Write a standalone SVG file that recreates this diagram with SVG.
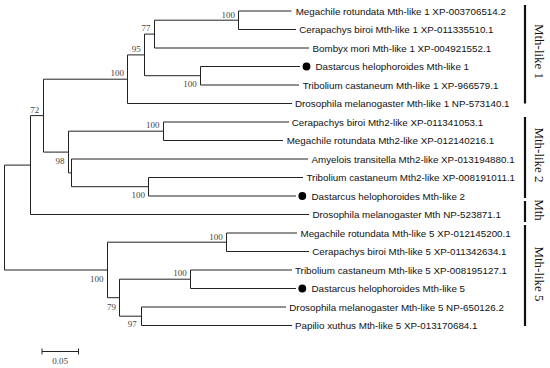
<svg xmlns="http://www.w3.org/2000/svg" width="550" height="368" viewBox="0 0 550 368">
<style>
.br{fill:none;stroke:#222;stroke-width:1}
.lf{font-family:"Liberation Sans",Arial,sans-serif;font-size:9.8px;fill:#111}
.bs{font-family:"Liberation Serif","Times New Roman",serif;font-size:9px;fill:#444;text-anchor:end}
.grp{font-family:"Liberation Serif","Times New Roman",serif;font-size:13px;fill:#111;text-anchor:middle}
.bar{stroke:#111;stroke-width:2.2}
.dot{fill:#000}
</style>
<rect width="550" height="368" fill="#fff"/>
<g id="connectors">
<path class="br" d="M30.5,165.1 H4.5 V270 H107.5"/>
<path class="br" d="M43.5,115.6 H30.5 V214.5 H309"/>
<path class="br" d="M127.5,79.2 H43.5 V152.1 H68.5"/>
<path class="br" d="M144.5,54.9 H127.5 V103.5 H292"/>
<path class="br" d="M154.5,34.1 H144.5 V75.7 H200.5"/>
<path class="br" d="M238.5,20.2 H154.5 V48 H309"/>
<path class="br" d="M291.5,11 H238.5 V29.5 H296"/>
<path class="br" d="M300,66.5 H200.5 V85 H299"/>
<path class="br" d="M163.5,131.2 H68.5 V172.9 H71.5"/>
<path class="br" d="M289,122 H163.5 V140.5 H283"/>
<path class="br" d="M308,159 H71.5 V186.7 H148.5"/>
<path class="br" d="M303,177.5 H148.5 V196 H296"/>
<path class="br" d="M226.5,242.2 H107.5 V297.7 H119.5"/>
<path class="br" d="M297,233 H226.5 V251.5 H309"/>
<path class="br" d="M190.5,279.2 H119.5 V316.2 H141.5"/>
<path class="br" d="M292,270 H190.5 V288.5 H296"/>
<path class="br" d="M286,307 H141.5 V325.5 H292"/>
</g>
<g id="bootstrap">
<g id="nF"><text class="bs" x="235" y="17.5">100</text></g>
<g id="nE"><text class="bs" x="150.5" y="31">77</text></g>
<g id="nD"><text class="bs" x="140.8" y="52">95</text></g>
<g id="nC"><text class="bs" x="124" y="75.7">100</text></g>
<g id="nG"><text class="bs" x="196.8" y="87.3">100</text></g>
<g id="nJ"><text class="bs" x="159.5" y="128.3">100</text></g>
<g id="nB"><text class="bs" x="39.3" y="113">72</text></g>
<g id="nH"><text class="bs" x="64.5" y="164">98</text></g>
<g id="nK"><text class="bs" x="145" y="198">100</text></g>
<g id="nN"><text class="bs" x="222.8" y="239.7">100</text></g>
<g id="nL"><text class="bs" x="103.5" y="281.7">100</text></g>
<g id="nO"><text class="bs" x="186.8" y="276.3">100</text></g>
<g id="nM"><text class="bs" x="116" y="309.7">79</text></g>
<g id="nP"><text class="bs" x="136.8" y="327">97</text></g>
</g>
<g id="leaf1"><text class="lf" x="295.7" y="14.5">Megachile rotundata Mth-like 1 XP-003706514.2</text></g>
<g id="leaf2"><text class="lf" x="299.3" y="33">Cerapachys biroi Mth-like 1 XP-011335510.1</text></g>
<g id="leaf3"><text class="lf" x="312.5" y="51.5">Bombyx mori Mth-like 1 XP-004921552.1</text></g>
<g id="leaf4"><circle class="dot" cx="306.5" cy="66.5" r="3.9"/><text class="lf" x="315.5" y="70">Dastarcus helophoroides Mth-like 1</text></g>
<g id="leaf5"><text class="lf" x="302.7" y="88.5">Tribolium castaneum Mth-like 1 XP-966579.1</text></g>
<g id="leaf6"><text class="lf" x="295" y="107">Drosophila melanogaster Mth-like 1 NP-573140.1</text></g>
<g id="leaf7"><text class="lf" x="291.7" y="125.5">Cerapachys biroi Mth2-like XP-011341053.1</text></g>
<g id="leaf8"><text class="lf" x="286.7" y="144">Megachile rotundata Mth2-like XP-012140216.1</text></g>
<g id="leaf9"><text class="lf" x="311.5" y="162.5">Amyelois transitella Mth2-like XP-013194880.1</text></g>
<g id="leaf10"><text class="lf" x="306.5" y="181">Tribolium castaneum Mth2-like XP-008191011.1</text></g>
<g id="leaf11"><circle class="dot" cx="302.3" cy="196" r="3.9"/><text class="lf" x="311.5" y="199.5">Dastarcus helophoroides Mth-like 2</text></g>
<g id="leaf12"><text class="lf" x="312.5" y="218">Drosophila melanogaster Mth NP-523871.1</text></g>
<g id="leaf13"><text class="lf" x="300.5" y="236.5">Megachile rotundata Mth-like 5 XP-012145200.1</text></g>
<g id="leaf14"><text class="lf" x="312.3" y="255">Cerapachys biroi Mth-like 5 XP-011342634.1</text></g>
<g id="leaf15"><text class="lf" x="295" y="273.5">Tribolium castaneum Mth-like 5 XP-008195127.1</text></g>
<g id="leaf16"><circle class="dot" cx="302.3" cy="288.5" r="3.9"/><text class="lf" x="311.5" y="292">Dastarcus helophoroides Mth-like 5</text></g>
<g id="leaf17"><text class="lf" x="289.3" y="310.5">Drosophila melanogaster Mth-like 5 NP-650126.2</text></g>
<g id="leaf18"><text class="lf" x="295" y="329">Papilio xuthus Mth-like 5 XP-013170684.1</text></g>
<g id="groups">
<line class="bar" x1="525" y1="5" x2="525" y2="103.5"/>
<line class="bar" x1="525" y1="117" x2="525" y2="198"/>
<line class="bar" x1="525" y1="201" x2="525" y2="222"/>
<line class="bar" x1="525" y1="225" x2="525" y2="326"/>
<text class="grp" transform="translate(534.5,51.5) rotate(90)">Mth-like 1</text>
<text class="grp" transform="translate(534.5,155) rotate(90)">Mth-like 2</text>
<text class="grp" transform="translate(534.5,210) rotate(90)">Mth</text>
<text class="grp" transform="translate(534.5,274) rotate(90)">Mth-like 5</text>
</g>
<g id="scale">
<path class="br" d="M42,351.5 H78.5 M42,348.5 V354.5 M78.5,348.5 V354.5"/>
<text class="bs" x="60" y="364" style="text-anchor:middle">0.05</text>
</g>
</svg>
